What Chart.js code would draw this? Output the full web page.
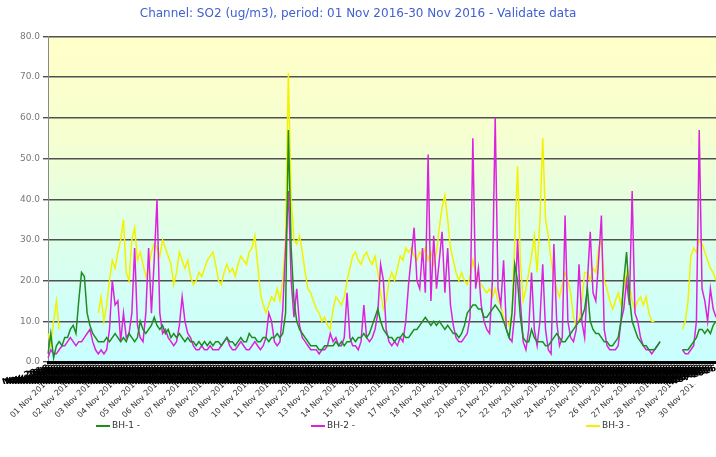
<!DOCTYPE html>
<html><head><meta charset="utf-8">
<script src="https://cdn.jsdelivr.net/npm/chart.js@4.4.1/dist/chart.umd.min.js"></script>
<style>
html,body{margin:0;padding:0;background:#fff;}
#wrap{position:relative;width:716px;height:457px;overflow:hidden;}
#c{position:absolute;left:0;top:0;}
.lg{position:absolute;top:419px;font:9px "DejaVu Sans",sans-serif;color:#333;white-space:nowrap;line-height:12px;}
.lg span{display:inline-block;width:14px;height:2px;vertical-align:middle;margin-right:2px;}
</style></head><body>
<div id="wrap"><canvas id="c" width="716" height="457"></canvas></div>
<script>
const titleText = 'Channel: SO2 (ug/m3), period: 01 Nov 2016-30 Nov 2016 - Validate data';
const days = ['01 Nov 2016','02 Nov 2016','03 Nov 2016','04 Nov 2016','05 Nov 2016','06 Nov 2016','07 Nov 2016','08 Nov 2016','09 Nov 2016','10 Nov 2016',
'11 Nov 2016','12 Nov 2016','13 Nov 2016','14 Nov 2016','15 Nov 2016','16 Nov 2016','17 Nov 2016','18 Nov 2016','19 Nov 2016','20 Nov 2016',
'21 Nov 2016','22 Nov 2016','23 Nov 2016','24 Nov 2016','25 Nov 2016','26 Nov 2016','27 Nov 2016','28 Nov 2016','29 Nov 2016','30 Nov 2016'];
const hours = ['00:00','03:00','06:00','09:00','12:00','15:00','18:00','21:00'];
const seriesNames = ['BH-1 -','BH-2 -','BH-3 -'];
const seriesColors = ['#1e8c1e','#dd22dd','#f2f200'];
const yTicks = [0,10,20,30,40,50,60,70,80];

const bh1 = [2,7,1,4,5,4,6,6, 8,9,7,15,22,21,12,9, 7,6,5,5,5,6,5,6, 7,6,5,6,5,7,6,5,
6,10,8,7,8,9,11,9, 8,9,7,8,6,7,6,7, 6,5,6,5,5,4,5,4, 5,4,5,4,5,5,4,5,
6,5,5,4,5,6,5,5, 7,6,6,5,5,6,6,5, 6,6,7,6,7,12,57,28, 15,10,8,7,6,5,4,4,
4,3,3,4,4,4,4,5, 4,5,4,5,5,6,5,6, 6,7,6,7,9,11,13,10, 8,7,6,6,5,6,6,7,
6,6,7,8,8,9,10,11, 10,9,10,9,10,9,8,9, 8,7,7,6,7,9,12,13, 14,14,13,13,11,11,12,13,
14,13,12,10,8,6,12,24, 20,11,6,5,5,8,6,5, 5,5,4,4,5,6,7,6, 5,5,6,7,8,9,10,11,
13,18,10,8,7,7,6,5, 5,4,4,5,6,10,20,27, 16,10,8,6,5,4,4,3, 3,3,4,5,null,null,null,null,
null,null,null,3,3,3,4,5, 6,8,8,7,8,7,9,10];

const bh2 = [1,3,2,2,3,4,4,5, 6,5,4,5,5,6,7,8, 5,3,2,3,2,3,8,20, 14,15,5,12,6,7,12,28,
9,6,5,12,28,12,25,40, 12,7,8,6,5,4,5,9, 16,10,7,6,4,3,3,4, 3,3,4,3,3,3,4,5,
6,4,3,3,4,5,4,3, 3,4,5,4,3,4,6,12, 10,5,4,5,13,28,42,20, 11,18,9,6,5,4,3,3,
3,2,3,3,4,7,5,6, 4,4,6,17,6,4,4,3, 5,14,6,5,6,8,12,24, 20,8,5,4,5,4,6,5,
10,19,26,33,20,18,28,17, 51,15,31,18,25,32,17,28, 14,9,6,5,5,6,7,11, 55,18,23,14,10,8,7,20,
60,18,14,25,8,6,5,12, 30,15,5,3,8,22,8,4, 10,24,8,3,2,29,10,4, 6,36,10,6,5,8,24,10,
6,20,32,17,15,25,36,8, 4,3,3,3,4,10,13,20, 14,42,12,10,6,4,3,3, 2,3,4,5,null,null,null,null,
null,null,null,3,2,2,3,4, 10,57,18,15,10,18,13,11];

const bh3 = [7,4,10,15,8,null,null,null, null,null,null,null,null,null,null,null, null,null,12,16,10,14,20,25, 23,27,30,35,22,20,30,33,
25,27,24,21,23,27,29,28, 26,30,28,26,24,19,22,27, 25,23,25,21,19,20,22,21, 23,25,26,27,24,20,19,22,
24,22,23,21,24,26,25,24, 27,28,31,24,17,14,12,14, 16,15,18,15,20,30,71,40, 30,29,31,27,22,18,17,15,
13,12,10,11,9,8,13,16, 15,14,16,20,23,26,27,25, 24,26,27,25,24,26,22,17, 13,15,20,22,20,23,26,25,
28,27,28,26,25,27,26,28, 25,27,24,27,33,38,41,35, 28,25,22,20,22,20,19,21, 25,22,20,19,18,17,18,16,
18,15,14,11,10,9,12,30, 48,25,15,18,22,26,31,22, 35,55,35,31,25,21,18,16, 19,22,20,17,11,9,10,15,
22,22,20,23,22,28,30,20, 18,15,13,15,17,14,18,22, 19,15,13,15,16,14,16,12, 10,10,null,null,null,null,null,null,
null,null,null,8,10,15,26,28, 27,30,29,27,25,23,22,20];

const labels = [];
days.forEach(d => hours.forEach(h => labels.push(d + ' ' + h)));
const perDay = hours.length;

const bgPlugin = {
  id: 'bgGrad',
  beforeDraw(chart) {
    const {ctx, chartArea: a} = chart;
    const g = ctx.createLinearGradient(0, a.top, 0, a.bottom);
    g.addColorStop(0, '#ffffc8');
    g.addColorStop(0.3, '#f6ffd0');
    g.addColorStop(0.55, '#e2ffe4');
    g.addColorStop(0.8, '#d2fff6');
    g.addColorStop(1, '#c8ffff');
    ctx.save();
    ctx.fillStyle = g;
    ctx.fillRect(a.left, a.top, a.right - a.left, a.bottom - a.top);
    ctx.restore();
  }
};

const font = 'DejaVu Sans';
const noSidePad = s => { s.paddingLeft = 0; s.paddingRight = 0; };
new Chart(document.getElementById('c'), {
  type: 'line',
  data: {
    labels: labels,
    datasets: [bh1, bh2, bh3].map((d, k) => ({
      label: seriesNames[k],
      data: d,
      borderColor: seriesColors[k],
      backgroundColor: seriesColors[k],
      borderWidth: 1.5,
      pointRadius: 0,
      tension: 0,
      spanGaps: false,
      order: k
    }))
  },
  options: {
    responsive: false,
    animation: false,
    layout: { padding: { left: 0, right: 0, top: 0, bottom: 33 } },
    plugins: {
      legend: { display: false },
      tooltip: { enabled: false },
      title: {
        display: true, text: titleText, color: '#4060d0',
        font: { family: font, size: 12, weight: 'normal' },
        padding: { top: 7, bottom: 15 }
      }
    },
    scales: {
      y: {
        min: 0, max: 80,
        afterBuildTicks: s => { s.ticks = yTicks.map(v => ({ value: v })); },
        afterFit: s => { s.width = 48; },
        ticks: { callback: v => Number(v).toFixed(1), color: '#777', font: { family: font, size: 9 }, padding: 3 },
        grid: { color: '#505050', lineWidth: 1.4, tickLength: 5 },
        border: { color: '#888', width: 1 }
      },
      x: {
        type: 'category', position: 'bottom', weight: 0,
        afterFit: s => { s.height = 22; noSidePad(s); },
        ticks: {
          autoSkip: false, minRotation: 18, maxRotation: 18, padding: -7,
          color: '#000', font: { family: font, size: 9, weight: 'bold' },
          callback: (v, i) => labels[i].slice(3, 11)
        },
        grid: { display: false },
        border: { color: '#000', width: 3, dash: [2.5, 1.2] }
      },
      xd: {
        type: 'category', position: 'bottom', weight: 1, labels: labels,
        afterFit: s => { s.height = 40; noSidePad(s); },
        ticks: {
          autoSkip: false, minRotation: 45, maxRotation: 45, padding: -15,
          color: '#333', font: { family: font, size: 8 },
          callback: (v, i) => (i % perDay === 0 ? days[i / perDay] : '')
        },
        grid: { display: false },
        border: { display: false }
      }
    }
  },
  plugins: [bgPlugin]
});

const legendPos = [96, 311, 586];
const wrap = document.getElementById('wrap');
seriesNames.forEach((n, k) => {
  const d = document.createElement('div');
  d.className = 'lg';
  d.style.left = legendPos[k] + 'px';
  d.innerHTML = '<span style="background:' + seriesColors[k] + '"></span>' + n;
  wrap.appendChild(d);
});
</script>
</body></html>
